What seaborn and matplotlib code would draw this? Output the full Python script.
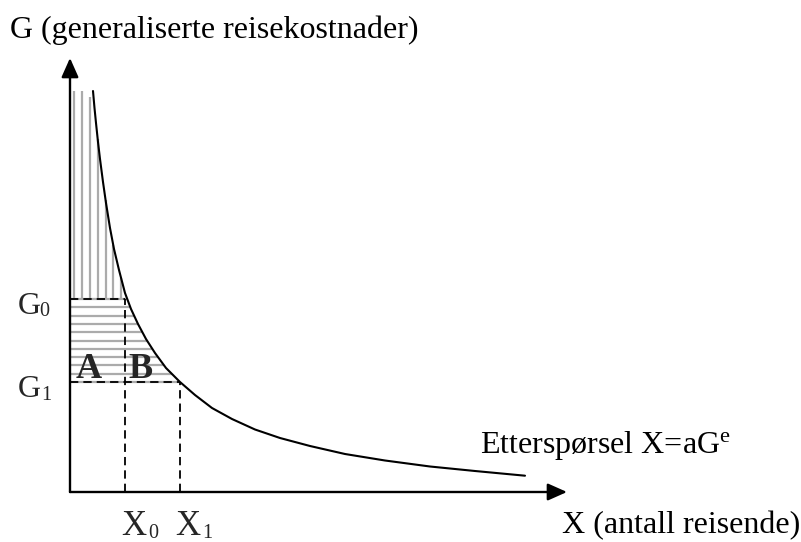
import numpy as np
import pandas as pd
import matplotlib
matplotlib.use("Agg")
import matplotlib.pyplot as plt
import seaborn as sns

# ---- data (schematic units) ----
curve_x = [2.30, 2.45, 2.60, 2.80, 3.00, 3.30, 3.60, 4.00, 4.40, 4.90, 5.50, 6.10,
           6.80, 7.60, 8.50, 9.60, 11.00, 12.50, 14.20, 16.20, 18.50, 21.00, 24.00,
           27.50, 31.50, 36.00, 40.50, 45.50]
curve_g = [40.10, 38.40, 36.90, 35.00, 33.30, 31.00, 28.90, 26.40, 24.30, 22.20, 19.90, 18.30,
           16.80, 15.30, 13.90, 12.40, 11.00, 9.70, 8.40, 7.30, 6.25, 5.40, 4.60,
           3.80, 3.15, 2.55, 2.10, 1.63]
X0, X1 = 5.5, 11.0
G0, G1 = 19.3, 11.0

title_text = "G (generaliserte reisekostnader)"
xaxis_text = "X (antall reisende)"
curve_label = r"Etterspørsel X=aG$^{\mathrm{e}}$"

sns.set_theme(style="white")
plt.rcParams["font.family"] = ["Liberation Serif", "DejaVu Serif"]
plt.rcParams["mathtext.fontset"] = "custom"
plt.rcParams["mathtext.rm"] = "Liberation Serif"
plt.rcParams["mathtext.it"] = "Liberation Serif:italic"
plt.rcParams["mathtext.bf"] = "Liberation Serif:bold"

fig = plt.figure(figsize=(8.01, 5.42), dpi=100)
fig.patch.set_facecolor("white")
ax = fig.add_axes([70 / 801, 50 / 542, 500 / 801, 440 / 542])

df = pd.DataFrame({"X": curve_x, "G": curve_g})
cx = np.array(curve_x)
cg = np.array(curve_g)

# ---- hatching ----
hatch_col = "#ababab"
hatch_lw = 1.6
for xv in np.arange(0.43, X0, 0.78):
    top = min(np.interp(xv, cx, cg), 41.5 - 1.0 * xv)
    ax.plot([xv, xv], [G0, top], color=hatch_col, lw=hatch_lw, zorder=1, solid_capstyle="butt")
for gv in np.arange(G1, G0 + 0.01, (G0 - G1) / 10):
    right = np.interp(gv, cg[::-1], cx[::-1])
    ax.plot([0, right], [gv, gv], color=hatch_col, lw=hatch_lw, zorder=1, solid_capstyle="butt")

# ---- dashed guides ----
dash = (0, (4.6, 2.8))
dlw = 1.3
ax.plot([0, X0], [G0, G0], color="black", lw=dlw, ls=dash, zorder=2)
ax.plot([0, X1], [G1, G1], color="black", lw=dlw, ls=dash, zorder=2)
ax.plot([X0, X0], [0, G0], color="black", lw=dlw, ls=dash, zorder=2)
ax.plot([X1, X1], [0, G1], color="black", lw=dlw, ls=dash, zorder=2)

# ---- demand curve ----
sns.lineplot(data=df, x="X", y="G", ax=ax, color="black", lw=1.5,
             sort=False, estimator=None, zorder=3, legend=False)

ax.set_xlim(0, 50)
ax.set_ylim(0, 44)
ax.axis("off")

# ---- axes arrows ----
aprops = dict(arrowstyle="-|>,head_length=0.9,head_width=0.4", mutation_scale=13,
              lw=1.7, color="black", shrinkA=0, shrinkB=0)
ax.annotate("", xy=(49.7, 0), xytext=(0, 0), arrowprops=aprops, annotation_clip=False, zorder=4)
ax.annotate("", xy=(0, 43.4), xytext=(0, 0), arrowprops=aprops, annotation_clip=False, zorder=4)

# ---- texts ----
fs = 23
ax.text(-6.0, 45.4, title_text, fontsize=fs, ha="left", va="baseline", color="black")
ax.text(49.2, -4.1, xaxis_text, fontsize=fs, ha="left", va="baseline", color="black")
ax.text(41.0, 3.87, curve_label, fontsize=fs, ha="left", va="baseline", color="black")

ax.text(-5.2, 17.77, "G", fontsize=fs, ha="left", va="baseline")
ax.text(-3.05, 17.55, "0", fontsize=14.5, ha="left", va="baseline")
ax.text(-5.2, 9.53, "G", fontsize=fs, ha="left", va="baseline")
ax.text(-2.9, 9.2, "1", fontsize=14.5, ha="left", va="baseline")

ax.text(5.17, -4.3, "X", fontsize=25, ha="left", va="baseline")
ax.text(7.85, -4.6, "0", fontsize=14.5, ha="left", va="baseline")
ax.text(10.5, -4.3, "X", fontsize=25, ha="left", va="baseline")
ax.text(13.2, -4.6, "1", fontsize=14.5, ha="left", va="baseline")

ax.text(0.6, 11.4, "A", fontsize=26, fontweight="bold", ha="left", va="baseline", zorder=5)
ax.text(5.8, 11.4, "B", fontsize=26, fontweight="bold", ha="left", va="baseline", zorder=5)

fig.savefig("out.png", dpi=100, facecolor="white")
